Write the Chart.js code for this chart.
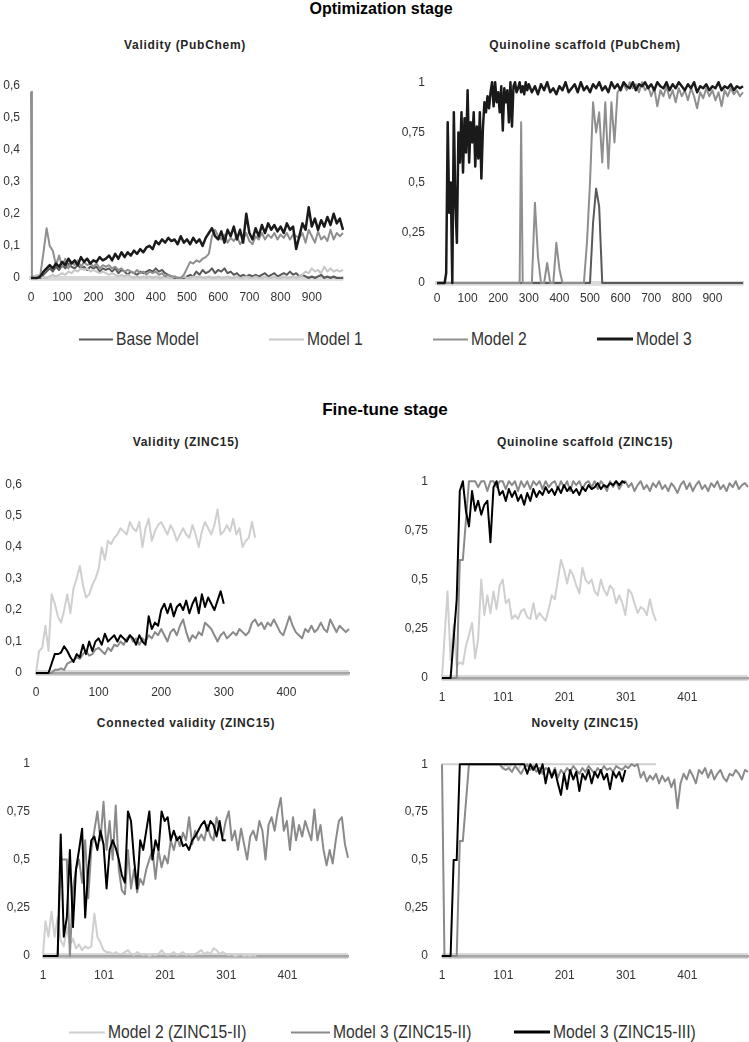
<!DOCTYPE html>
<html><head><meta charset="utf-8">
<script src="https://cdn.jsdelivr.net/npm/chart.js@4.4.1/dist/chart.umd.min.js"></script>
<style>
body{margin:0;width:749px;height:1042px;background:#fff;position:relative;overflow:hidden;font-family:"Liberation Sans",Arial,sans-serif;}
.t{position:absolute;transform:translate(-50%,-50%);white-space:nowrap;color:#000;}
.stage{font-weight:bold;font-size:16px;}
.sub{font-weight:bold;font-size:12px;letter-spacing:0.7px;color:#262626;}
canvas{position:absolute;}
.leg{position:absolute;display:flex;align-items:center;transform:translateY(-50%);font-family:"Liberation Sans",Arial,sans-serif;font-size:18px;color:#333;white-space:nowrap;}
.leg i{display:inline-block;height:2px;margin-right:3px;}
.leg span{display:inline-block;transform:scaleX(0.87);transform-origin:left center;}
</style></head>
<body>
<div class="t stage" style="left:381px;top:9px">Optimization stage</div>
<div class="t sub" style="left:185px;top:45px">Validity (PubChem)</div>
<div class="t sub" style="left:585px;top:45px">Quinoline scaffold (PubChem)</div>
<div class="t stage" style="left:385px;top:410px;font-size:17px">Fine-tune stage</div>
<div class="t sub" style="left:186px;top:442px">Validity (ZINC15)</div>
<div class="t sub" style="left:585px;top:442px">Quinoline scaffold (ZINC15)</div>
<div class="t sub" style="left:186px;top:723px">Connected validity (ZINC15)</div>
<div class="t sub" style="left:585px;top:723px">Novelty (ZINC15)</div>
<script>
// ---------- series names ----------
const OPT_NAMES = ['Base Model','Model 1','Model 2','Model 3'];
const FT_NAMES = ['Model 2 (ZINC15-II)','Model 3 (ZINC15-II)','Model 3 (ZINC15-III)'];

// ---------- tick labels ----------
const P1_XTICKS = [0,100,200,300,400,500,600,700,800,900];
const P1_YTICKS = [0,0.1,0.2,0.3,0.4,0.5,0.6];
const P2_XTICKS = [0,100,200,300,400,500,600,700,800,900];
const P2_YTICKS = [0,0.25,0.5,0.75,1];
const P3_XTICKS = [0,100,200,300,400];
const P3_YTICKS = [0,0.1,0.2,0.3,0.4,0.5,0.6];
const P456_XTICKS = [1,101,201,301,401];
const P456_YTICKS = [0,0.25,0.5,0.75,1];

// ---------- Panel 1: Validity (PubChem) ----------
const P1_X = [0,3,10,20,30,40,50,60,70,80,
 90,100,110,120,130,140,150,160,170,180,
 190,200,210,220,230,240,250,260,270,280,
 290,300,310,320,330,340,350,360,370,380,
 390,400,410,420,430,440,450,460,470,480,
 490,500,510,520,530,540,550,560,570,580,
 590,600,610,620,630,640,650,660,670,680,
 690,700,710,720,730,740,750,760,770,780,
 790,800,810,820,830,840,850,860,870,880,
 890,900,910,920,930,940,950,960,970,980,
 990,1000];
const P1_BASE = [0,0,0,0,0,0.01,0.02,0.03,0.02,0.035,
 0.025,0.04,0.03,0.045,0.035,0.03,0.04,0.03,0.035,0.025,
 0.035,0.03,0.035,0.02,0.03,0.025,0.03,0.02,0.03,0.015,
 0.025,0.02,0.01,0.02,0.015,0.01,0.02,0.015,0.02,0.025,
 0.02,0.03,0.02,0.025,0.015,0.01,0.005,0,0,0,
 0,0.005,0.01,0.005,0.02,0.01,0.025,0.015,0.02,0.03,
 0.015,0.025,0.02,0.03,0.015,0.02,0.01,0.015,0.005,0.01,
 0.005,0.01,0.005,0.01,0.005,0.01,0.015,0.005,0.01,0.015,
 0.005,0.01,0.015,0.01,0.02,0.01,0.015,0.005,0.01,0.005,
 0,0.005,0,0.005,0.01,0,0.005,0,0.005,0,
 0,0];
const P1_M1 = [0.01,0.01,0.005,0.01,0.005,0,0,0.005,0.01,0.005,
 0.01,0.015,0.01,0.02,0.015,0.025,0.02,0.03,0.025,0.03,
 0.02,0.025,0.02,0.015,0.02,0.015,0.01,0.015,0.01,0.005,
 0.01,0.005,0.01,0.005,0,0.005,0,0.005,0,0.005,
 0,0.005,0,0,0.005,0,0,0.005,0,0,
 0.005,0,0,0.005,0,0.005,0,0,0.005,0,
 0,0.005,0,0,0.005,0,0,0.005,0,0,
 0.005,0,0,0.005,0,0,0.005,0,0,0.005,
 0,0,0.005,0,0,0.005,0,0.005,0.01,0.02,
 0.015,0.03,0.02,0.025,0.015,0.035,0.02,0.03,0.02,0.025,
 0.02,0.025];
const P1_M2 = [0.58,0,0,0,0.01,0.08,0.155,0.1,0.085,0.04,
 0.07,0.035,0.06,0.03,0.05,0.04,0.055,0.035,0.05,0.04,
 0.045,0.035,0.045,0.03,0.04,0.035,0.04,0.03,0.035,0.025,
 0.03,0.02,0.025,0.02,0.015,0.025,0.015,0.02,0.01,0.02,
 0.015,0.02,0.01,0.015,0.005,0.01,0.005,0.005,0,0,
 0.01,0.03,0.05,0.045,0.055,0.05,0.06,0.065,0.075,0.13,
 0.15,0.13,0.12,0.135,0.11,0.125,0.115,0.13,0.105,0.12,
 0.14,0.115,0.105,0.13,0.12,0.14,0.12,0.135,0.125,0.14,
 0.12,0.135,0.125,0.14,0.12,0.135,0.13,0.125,0.14,0.11,
 0.15,0.13,0.11,0.145,0.12,0.13,0.115,0.15,0.12,0.14,
 0.13,0.14];
const P1_M3 = [0,0,0,0,0.005,0.02,0.03,0.04,0.03,0.045,
 0.035,0.05,0.04,0.06,0.045,0.055,0.04,0.065,0.05,0.06,
 0.045,0.055,0.05,0.065,0.055,0.06,0.07,0.055,0.075,0.06,
 0.08,0.065,0.08,0.07,0.085,0.075,0.09,0.08,0.095,0.1,
 0.09,0.115,0.105,0.12,0.11,0.125,0.115,0.12,0.105,0.13,
 0.11,0.12,0.105,0.125,0.11,0.12,0.1,0.125,0.14,0.155,
 0.13,0.12,0.145,0.11,0.15,0.13,0.16,0.12,0.15,0.11,
 0.2,0.14,0.12,0.155,0.13,0.165,0.14,0.17,0.15,0.165,
 0.145,0.16,0.14,0.17,0.15,0.16,0.09,0.13,0.17,0.15,
 0.22,0.16,0.185,0.15,0.18,0.16,0.19,0.165,0.2,0.17,
 0.185,0.15];

// ---------- Panel 2: Quinoline scaffold (PubChem) ----------
const P2_X = [0,5,10,15,20,25,30,35,40,45,
 50,55,60,65,70,75,80,85,90,95,
 100,105,110,115,120,125,130,135,140,145,
 150,155,160,165,170,175,180,185,190,195,
 200,205,210,215,220,225,230,235,240,245,
 250,255,260,265,270,275,280,285,290,295,
 300,310,320,330,340,350,360,370,380,390,
 400,410,420,430,440,450,460,470,480,490,
 500,510,520,530,540,550,560,570,580,590,
 600,610,620,630,640,650,660,670,680,690,
 700,710,720,730,740,750,760,770,780,790,
 800,810,820,830,840,850,860,870,880,890,
 900,910,920,930,940,950,960,970,980,990,
 1000];
const P2_BASE = [0,0,0,0,0,0,0,0,0,0,
 0,0,0,0,0,0,0,0,0,0,
 0,0,0,0,0,0,0,0,0,0,
 0,0,0,0,0,0,0,0,0,0,
 0,0,0,0,0,0,0,0,0,0,
 0,0,0,0,0,0,0,0,0,0,
 0,0,0,0,0,0,0,0,0,0,
 0,0,0,0,0,0,0,0,0,0,
 0,0.3,0.47,0.38,0,0,0,0,0,0,
 0,0,0,0,0,0,0,0,0,0,
 0,0,0,0,0,0,0,0,0,0,
 0,0,0,0,0,0,0,0,0,0,
 0,0,0,0,0,0,0,0,0,0,
 0];
const P2_M2 = [0,0,0,0,0,0,0,0,0,0,
 0,0,0,0,0,0,0,0,0,0,
 0,0,0,0,0,0,0,0,0,0,
 0,0,0,0,0,0,0,0,0,0,
 0,0,0,0,0,0,0,0,0,0,
 0,0,0,0,0,0.8,0,0,0,0,
 0,0,0.4,0.13,0,0,0.1,0,0,0.2,
 0.07,0,0,0,0,0,0,0,0,0.2,
 0.5,0.9,0.75,0.85,0.6,0.9,0.57,0.9,0.7,0.95,
 0.97,0.99,0.96,1,0.97,0.99,0.95,1,0.96,0.98,
 0.93,0.97,0.88,0.96,0.93,0.98,0.92,0.96,0.9,0.97,
 0.93,0.96,0.91,0.97,0.93,0.87,0.95,0.92,0.97,0.93,
 0.96,0.91,0.95,0.88,0.96,0.93,0.97,0.94,0.96,0.93,
 0.95];
const P2_M3 = [0,0,0,0,0,0,0.05,0.8,0.35,0.5,
 0,0.85,0.4,0.2,0.75,0.6,0.85,0.55,0.82,0.65,
 0.96,0.6,0.8,0.7,0.85,0.58,0.78,0.62,0.85,0.52,
 0.77,0.9,0.85,0.93,0.87,0.95,1,0.88,1,0.9,
 0.95,0.85,0.98,0.76,0.97,0.9,0.96,0.8,1,0.78,
 0.98,1,0.95,0.97,1,0.95,0.98,0.94,1,0.96,
 0.99,0.95,0.98,0.94,0.99,0.96,1,0.95,0.97,0.94,
 0.98,0.96,1,0.95,0.97,0.99,0.95,1,0.96,0.98,
 0.95,0.99,0.97,1,0.96,0.98,0.95,1,0.97,0.99,
 0.96,1,0.98,0.97,1,0.96,0.99,0.98,1,0.97,
 0.99,0.96,1,0.98,0.97,1,0.96,0.99,0.97,1,
 0.98,0.96,0.99,0.97,1,0.95,0.98,0.97,0.99,0.96,
 0.98,0.97,1,0.96,0.98,0.97,0.99,0.96,0.98,0.97,
 0.98];

// ---------- Panel 3: Validity (ZINC15) ----------
const P3_X = [0,5,10,15,20,25,30,35,40,45,
 50,55,60,65,70,75,80,85,90,95,
 100,105,110,115,120,125,130,135,140,145,
 150,155,160,165,170,175,180,185,190,195,
 200,205,210,215,220,225,230,235,240,245,
 250,255,260,265,270,275,280,285,290,295,
 300,305,310,315,320,325,330,335,340,345,
 350,355,360,365,370,375,380,385,390,395,
 400,405,410,415,420,425,430,435,440,445,
 450,455,460,465,470,475,480,485,490,495,
 500];
const P3_M2II = [0,0.07,0.08,0.15,0.07,0.25,0.22,0.18,0.16,0.2,
 0.25,0.19,0.27,0.3,0.34,0.28,0.24,0.25,0.28,0.3,
 0.33,0.4,0.36,0.42,0.41,0.43,0.44,0.46,0.45,0.44,
 0.48,0.46,0.45,0.48,0.4,0.46,0.49,0.42,0.45,0.47,
 0.48,0.46,0.44,0.47,0.45,0.42,0.44,0.46,0.44,0.43,
 0.47,0.44,0.4,0.45,0.48,0.46,0.44,0.47,0.52,0.44,
 0.45,0.47,0.45,0.49,0.44,0.46,0.4,0.42,0.43,0.48,
 0.43];
const P3_M3II = [0,0,0,0,0,0,0.01,0.01,0.015,0.01,
 0.03,0.035,0.04,0.05,0.045,0.06,0.07,0.055,0.06,0.075,
 0.08,0.07,0.06,0.08,0.07,0.09,0.085,0.1,0.09,0.11,
 0.12,0.1,0.11,0.09,0.11,0.1,0.12,0.11,0.13,0.12,
 0.14,0.12,0.1,0.13,0.14,0.12,0.15,0.17,0.13,0.1,
 0.12,0.11,0.13,0.12,0.16,0.15,0.14,0.12,0.1,0.12,
 0.13,0.11,0.12,0.13,0.12,0.14,0.13,0.12,0.13,0.16,
 0.17,0.15,0.16,0.14,0.16,0.15,0.17,0.15,0.13,0.12,
 0.15,0.18,0.15,0.13,0.12,0.11,0.14,0.13,0.15,0.13,
 0.14,0.16,0.14,0.13,0.17,0.15,0.13,0.15,0.14,0.13,
 0.14];
const P3_M3III = [0,0,0,0,0,0.03,0.06,0.06,0.065,0.085,
 0.07,0.05,0.035,0.06,0.05,0.09,0.06,0.1,0.07,0.1,
 0.11,0.09,0.125,0.1,0.11,0.12,0.1,0.12,0.11,0.1,
 0.12,0.11,0.09,0.12,0.1,0.09,0.18,0.14,0.16,0.15,
 0.2,0.22,0.19,0.22,0.18,0.21,0.22,0.2,0.23,0.19,
 0.22,0.24,0.19,0.25,0.21,0.24,0.22,0.2,0.23,0.26,
 0.22];

// ---------- Panels 4-6 share the step grid 1..500 ----------
const P456_X = [1,5,10,15,20,25,30,35,40,45,
 50,55,60,65,70,75,80,85,90,95,
 100,105,110,115,120,125,130,135,140,145,
 150,155,160,165,170,175,180,185,190,195,
 200,205,210,215,220,225,230,235,240,245,
 250,255,260,265,270,275,280,285,290,295,
 300,305,310,315,320,325,330,335,340,345,
 350,355,360,365,370,375,380,385,390,395,
 400,405,410,415,420,425,430,435,440,445,
 450,455,460,465,470,475,480,485,490,495,
 500];

// Panel 4: Quinoline scaffold (ZINC15)
const P4_M2II = [0,0.2,0.44,0.09,0.27,0.06,0.08,0.07,0.16,0.22,
 0.28,0.1,0.2,0.5,0.32,0.42,0.33,0.44,0.35,0.47,
 0.5,0.38,0.4,0.3,0.32,0.3,0.34,0.35,0.31,0.3,
 0.38,0.3,0.33,0.31,0.29,0.35,0.42,0.4,0.5,0.6,
 0.55,0.48,0.55,0.52,0.47,0.43,0.56,0.5,0.48,0.5,
 0.44,0.42,0.5,0.45,0.42,0.47,0.45,0.38,0.42,0.38,
 0.32,0.45,0.43,0.38,0.33,0.36,0.35,0.32,0.4,0.33,
 0.29];
const P4_M3II = [0,0,0,0,0,0,0.6,0.6,0.8,1,
 1,1,0.97,1,1,0.95,1,1,0.97,1,
 1,0.96,1,0.98,1,0.95,1,0.97,1,0.96,
 1,0.98,1,0.96,1,0.97,0.99,1,0.96,1,
 0.97,1,0.95,1,0.98,1,0.96,0.99,1,0.97,
 1,0.96,1,0.98,0.95,1,0.97,1,0.96,0.99,
 1,0.97,0.99,0.95,0.98,1,0.96,0.98,0.95,0.99,
 0.97,1,0.96,0.98,0.95,0.99,0.97,0.94,0.98,1,
 0.96,0.99,0.95,0.98,1,0.96,0.98,0.95,0.99,0.97,
 1,0.96,0.98,0.95,0.99,0.97,1,0.96,0.98,0.99,
 0.97];
const P4_M3III = [0,0,0,0,0.2,0.4,0.95,1,0.85,0.77,
 0.95,0.85,0.9,0.83,0.88,0.9,0.69,0.97,1,0.93,
 0.95,0.9,0.96,0.92,0.95,0.9,0.93,0.88,0.94,0.9,
 0.96,0.92,0.95,0.93,0.97,0.94,0.96,0.93,0.97,0.94,
 0.98,0.95,0.97,0.94,0.96,0.93,0.97,0.95,0.98,0.96,
 0.97,0.99,0.96,0.98,0.97,0.99,0.98,1,0.98,1,
 0.99];

// Panel 5: Connected validity (ZINC15)
const P5_M2II = [0,0.18,0.1,0.23,0.1,0.2,0.08,0.05,0.15,0.06,
 0.09,0.04,0.06,0.03,0.05,0.04,0.05,0.22,0.1,0.07,
 0.03,0.02,0.02,0.01,0.02,0.01,0.01,0.02,0.03,0.01,
 0.005,0.02,0.01,0.005,0.01,0,0.01,0.005,0.01,0.03,
 0.01,0.005,0.01,0.02,0.005,0.01,0.02,0.005,0.01,0.005,
 0.01,0.02,0.03,0.01,0.02,0.01,0.04,0.03,0.01,0.02,
 0.01,0.005,0.01,0,0.005,0.01,0,0.005,0,0.005,
 0];
const P5_M3II = [0,0,0,0,0,0,0.5,0.5,0.5,0,
 0.35,0.45,0.5,0.38,0.6,0.3,0.55,0.65,0.75,0.6,
 0.8,0.55,0.7,0.5,0.78,0.45,0.34,0.32,0.55,0.35,
 0.45,0.33,0.4,0.37,0.45,0.5,0.55,0.4,0.55,0.46,
 0.52,0.48,0.6,0.55,0.62,0.57,0.64,0.6,0.72,0.58,
 0.65,0.6,0.63,0.6,0.68,0.62,0.6,0.72,0.66,0.62,
 0.7,0.75,0.6,0.65,0.55,0.66,0.58,0.5,0.62,0.65,
 0.6,0.7,0.65,0.5,0.68,0.72,0.65,0.75,0.82,0.65,
 0.7,0.55,0.72,0.6,0.68,0.62,0.7,0.65,0.6,0.76,
 0.6,0.68,0.55,0.47,0.55,0.48,0.6,0.7,0.72,0.58,
 0.51];
const P5_M3III = [0,0,0,0,0,0,0.63,0.1,0.2,0.55,
 0.15,0.45,0.55,0.66,0.2,0.45,0.6,0.62,0.55,0.65,
 0.58,0.35,0.55,0.6,0.56,0.5,0.42,0.38,0.75,0.7,
 0.5,0.35,0.6,0.55,0.65,0.75,0.5,0.6,0.55,0.75,
 0.7,0.72,0.6,0.65,0.6,0.62,0.57,0.58,0.55,0.6,
 0.62,0.65,0.68,0.7,0.65,0.7,0.68,0.62,0.7,0.6,
 0.6];

// Panel 6: Novelty (ZINC15)
const P6_M2II = [1,1,1,1,1,1,1,1,1,1,
 1,1,1,1,1,1,1,1,1,1,
 0.98,1,0.98,1,1,0.97,1,1,1,1,
 1,1,1,1,1,1,1,1,1,1,
 1,1,1,1,1,1,1,1,1,1,
 1,1,1,1,1,1,1,1,1,1,
 1,1,1,1,1,1,1,1,1,1,
 1];
const P6_M3II = [1,0,0,0,0,0,0.6,0.6,0.8,1,
 1,1,1,1,1,1,1,1,1,1,
 0.98,0.97,0.98,0.96,0.99,0.97,0.95,0.98,1,0.97,
 0.99,0.96,0.98,0.95,0.98,0.97,0.94,0.98,0.93,0.97,
 0.95,0.98,0.96,0.99,0.97,0.95,0.98,0.96,0.99,0.97,
 0.95,0.98,0.96,0.99,0.97,0.98,0.96,0.99,0.98,0.97,
 0.99,0.98,1,0.99,1,0.93,0.96,0.91,0.94,0.92,
 0.95,0.9,0.94,0.91,0.93,0.88,0.92,0.77,0.9,0.95,
 0.92,0.97,0.94,0.9,0.97,0.95,0.98,0.93,0.97,0.92,
 0.95,0.97,0.93,0.91,0.95,0.94,0.97,0.95,0.92,0.97,
 0.96];
const P6_M3III = [0,0,0,0,0.5,0.5,1,1,1,1,
 1,1,1,1,1,1,1,1,1,1,
 1,1,1,1,1,1,1,1,0.95,1,
 0.97,1,0.95,1,0.9,0.98,0.93,0.97,0.9,0.84,
 0.95,0.87,0.97,0.92,0.96,0.86,0.95,0.92,0.97,0.9,
 0.96,0.93,0.97,0.92,0.95,0.87,0.96,0.93,0.96,0.91,
 0.97];

// ---------- styling ----------
const OPT_COLORS = ['#595959','#c6c6c6','#8f8f8f','#1a1a1a'];
const FT_COLORS = ['#cfcfcf','#8a8a8a','#000000'];
const TICK_FONT = {family:'"Liberation Sans", Arial, sans-serif', size:12};

function pts(xs, ys){
  const out = [];
  for (let i = 0; i < ys.length; i++) out.push({x: xs[i], y: ys[i]});
  return out;
}
function ds(label, xs, ys, color, width, order){
  return {label, data: pts(xs, ys), borderColor: color, backgroundColor: color,
    borderWidth: width, pointRadius: 0, fill: false, tension: 0, clip: 8, order,
    borderJoinStyle: 'round'};
}
function fmt(v){ return String(Math.round(v*100)/100).replace('.', ','); }

function makeChart(box, datasets, sc){
  const c = document.createElement('canvas');
  c.width = box.w; c.height = box.h;
  c.style.left = box.l + 'px'; c.style.top = box.t + 'px';
  c.style.width = box.w + 'px'; c.style.height = box.h + 'px';
  document.body.appendChild(c);
  new Chart(c.getContext('2d'), {
    type: 'line',
    data: {datasets},
    options: {
      responsive: false, animation: false, devicePixelRatio: 1,
      layout: {padding: {left: 0, right: box.pr, top: 10, bottom: box.pb}},
      plugins: {legend: {display: false}, tooltip: {enabled: false}, title: {display: false}},
      scales: {
        x: {type: 'linear', min: sc.xmin, max: sc.xmax,
          afterBuildTicks: s => { s.ticks = sc.xt.map(v => ({value: v})); },
          afterFit: s => { s.height = box.xh; },
          ticks: {autoSkip: false, maxRotation: 0, padding: sc.xpad, font: TICK_FONT, color: '#333',
            callback: v => String(v)},
          grid: {display: false, drawTicks: false},
          border: {display: true, color: sc.axis, width: sc.axisW}},
        y: {type: 'linear', min: 0, max: sc.ymax,
          afterBuildTicks: s => { s.ticks = sc.yt.map(v => ({value: v})); },
          afterFit: s => { s.width = box.yw; },
          ticks: {padding: sc.ypad, font: TICK_FONT, color: '#333', callback: v => fmt(v)},
          grid: {display: true, drawTicks: false,
            color: ctx => (ctx.tick && ctx.tick.value === 0) ? sc.halo : 'rgba(0,0,0,0)',
            lineWidth: ctx => (ctx.tick && ctx.tick.value === 0) ? sc.haloW : 0},
          border: {display: false}}
      }
    }
  });
}

// Panel 1
makeChart({l:0,t:67,w:355,h:250,pr:12,pb:5,yw:31,xh:34},
  [ds(OPT_NAMES[0],P1_X,P1_BASE,OPT_COLORS[0],2,3),
   ds(OPT_NAMES[1],P1_X,P1_M1,OPT_COLORS[1],2,2),
   ds(OPT_NAMES[2],P1_X,P1_M2,OPT_COLORS[2],2,1),
   ds(OPT_NAMES[3],P1_X,P1_M3,OPT_COLORS[3],2.5,0)],
  {xmin:0,xmax:1000,xt:P1_XTICKS,yt:P1_YTICKS,ymax:0.6,xpad:12,ypad:11,axis:'#d9d9d9',axisW:4,halo:'#e3e3e3',haloW:5});

// Panel 2
makeChart({l:390,t:63,w:359,h:250,pr:6,pb:2,yw:47,xh:28},
  [ds(OPT_NAMES[0],P2_X,P2_BASE,OPT_COLORS[0],2,3),
   ds(OPT_NAMES[2],P2_X,P2_M2,OPT_COLORS[2],2,1),
   ds(OPT_NAMES[3],P2_X,P2_M3,OPT_COLORS[3],2.5,0)],
  {xmin:0,xmax:1000,xt:P2_XTICKS,yt:P2_YTICKS,ymax:1,xpad:8,ypad:12,axis:'#d9d9d9',axisW:4,halo:'#e3e3e3',haloW:5});

// Panel 3
makeChart({l:0,t:463,w:360,h:250,pr:11,pb:5,yw:36,xh:35},
  [ds(FT_NAMES[0],P3_X,P3_M2II,FT_COLORS[0],2,2),
   ds(FT_NAMES[1],P3_X,P3_M3II,FT_COLORS[1],2,1),
   ds(FT_NAMES[2],P3_X,P3_M3III,FT_COLORS[2],2,0)],
  {xmin:0,xmax:500,xt:P3_XTICKS,yt:P3_YTICKS,ymax:0.6,xpad:12,ypad:14,axis:'#a6a6a6',axisW:2.5,halo:'#d9d9d9',haloW:6});

// Panel 4
makeChart({l:390,t:460,w:359,h:250,pr:1,pb:2,yw:52,xh:30},
  [ds(FT_NAMES[0],P456_X,P4_M2II,FT_COLORS[0],2,2),
   ds(FT_NAMES[1],P456_X,P4_M3II,FT_COLORS[1],2,1),
   ds(FT_NAMES[2],P456_X,P4_M3III,FT_COLORS[2],2,0)],
  {xmin:1,xmax:500,xt:P456_XTICKS,yt:P456_YTICKS,ymax:1,xpad:12,ypad:14,axis:'#a6a6a6',axisW:2.5,halo:'#d9d9d9',haloW:6});

// Panel 5
makeChart({l:0,t:743,w:360,h:250,pr:12,pb:4,yw:43,xh:33},
  [ds(FT_NAMES[0],P456_X,P5_M2II,FT_COLORS[0],2,2),
   ds(FT_NAMES[1],P456_X,P5_M3II,FT_COLORS[1],2,1),
   ds(FT_NAMES[2],P456_X,P5_M3III,FT_COLORS[2],2,0)],
  {xmin:1,xmax:500,xt:P456_XTICKS,yt:P456_YTICKS,ymax:1,xpad:12,ypad:13,axis:'#a6a6a6',axisW:2.5,halo:'#d9d9d9',haloW:6});

// Panel 6
makeChart({l:390,t:743,w:359,h:250,pr:1,pb:4,yw:52,xh:33},
  [ds(FT_NAMES[0],P456_X,P6_M2II,FT_COLORS[0],2,2),
   ds(FT_NAMES[1],P456_X,P6_M3II,FT_COLORS[1],2,1),
   ds(FT_NAMES[2],P456_X,P6_M3III,FT_COLORS[2],2,0)],
  {xmin:1,xmax:500,xt:P456_XTICKS,yt:P456_YTICKS,ymax:1,xpad:12,ypad:14,axis:'#a6a6a6',axisW:2.5,halo:'#d9d9d9',haloW:6});

// ---------- legends (HTML) ----------
function legend(names, colors, xs, lens, y, widths){
  names.forEach((n, i) => {
    const d = document.createElement('div');
    d.className = 'leg';
    d.style.left = xs[i] + 'px'; d.style.top = y + 'px';
    const ln = document.createElement('i');
    ln.style.width = lens[i] + 'px'; ln.style.background = colors[i]; ln.style.height = widths[i] + 'px';
    d.appendChild(ln);
    const sp = document.createElement('span');
    sp.textContent = n;
    d.appendChild(sp);
    document.body.appendChild(d);
  });
}
legend(OPT_NAMES, OPT_COLORS, [79,269,433,597], [34,35,35,36], 339, [2,2,2,2.5]);
legend(FT_NAMES, FT_COLORS, [69,291,514], [36,39,36], 1032, [2,2,2.5]);
</script>
</body></html>
